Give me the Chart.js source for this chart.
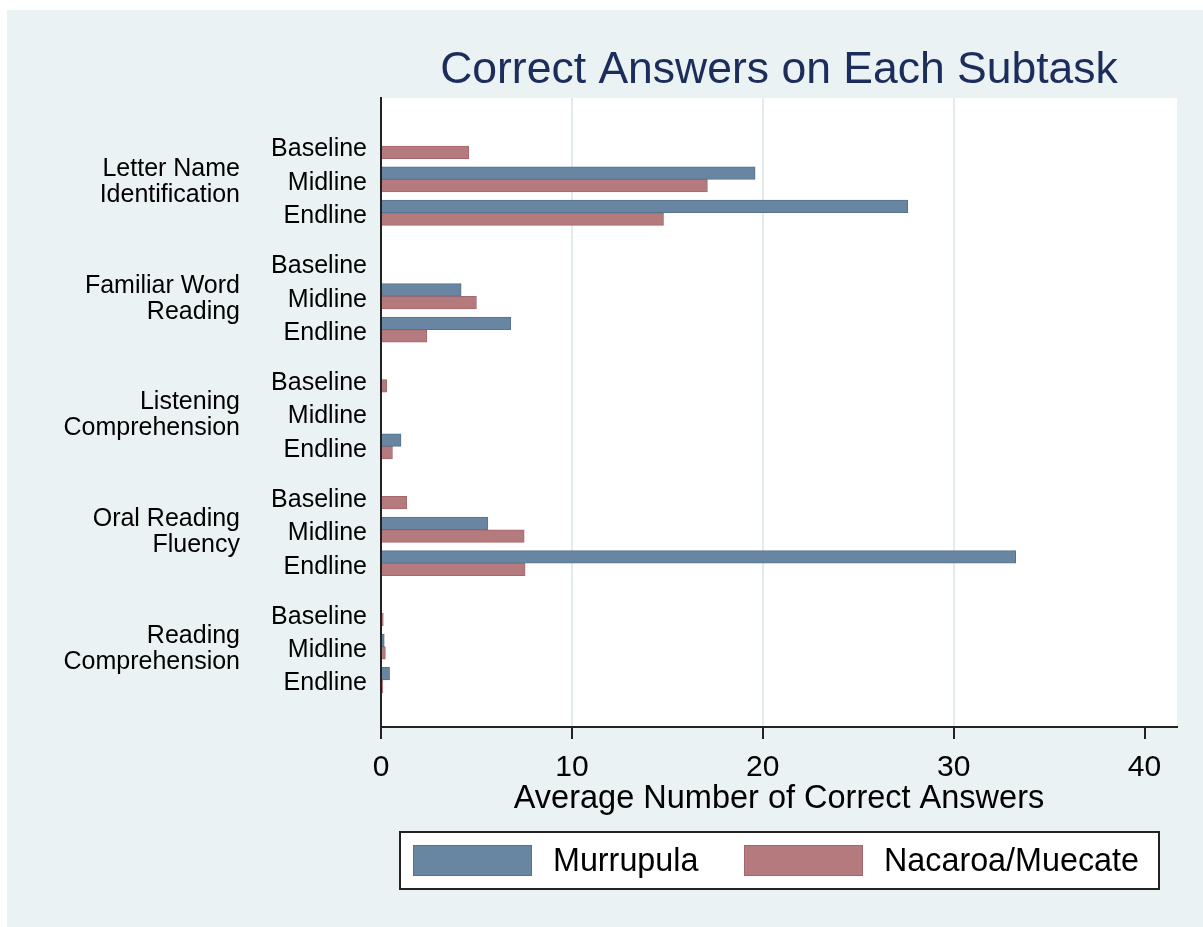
<!DOCTYPE html>
<html>
<head>
<meta charset="utf-8">
<title>Correct Answers on Each Subtask</title>
<script src="https://cdn.jsdelivr.net/npm/chart.js@4/dist/chart.umd.min.js"></script>
<style>
    html, body { margin: 0; padding: 0; background: #ffffff; }
    #wrap { position: relative; width: 1203px; height: 927px; }
</style>
</head>
<body>
<div id="wrap"><canvas id="subtaskChart" width="1203" height="927"></canvas></div>
<script>
// Data
const subtasks = [
    ['Letter Name', 'Identification'],
    ['Familiar Word', 'Reading'],
    ['Listening', 'Comprehension'],
    ['Oral Reading', 'Fluency'],
    ['Reading', 'Comprehension']
];
const rounds = ['Baseline', 'Midline', 'Endline'];
const seriesNames = ['Murrupula', 'Nacaroa/Muecate'];

// one value per subtask x round, in order (null = no bar)
const murrupula = [null, 19.6, 27.6, null, 4.2, 6.8, null, null, 1.05, null, 5.6, 33.25, null, 0.17, 0.45];
const nacaroa = [4.6, 17.1, 14.8, null, 5.0, 2.4, 0.3, null, 0.6, 1.35, 7.5, 7.55, 0.12, 0.23, 0.1];

const xTicks = [0, 10, 20, 30, 40];

// Style
const FONT = '"Liberation Sans", Arial, sans-serif';
const colors = {
    page: '#ffffff',
    panel: '#eaf2f3',
    plot: '#ffffff',
    grid: '#e3ebee',
    title: '#1c2c5b',
    blue: '#6886a1',
    blueEdge: '#56738e',
    red: '#b57a7d',
    redEdge: '#a4676b'
};
const GROUP_GAP = 0.5; // extra row space between subtasks

// row position on the linear y scale
const rowPos = (g, r) => g * (rounds.length + GROUP_GAP) + r;
const positions = [];
subtasks.forEach((s, g) => rounds.forEach((r, i) => positions.push(rowPos(g, i))));

const toPoints = (values) => values.map((v, i) => ({ x: v, y: positions[i] }));

// Background: white page, light panel, white plot region
const backgroundPlugin = {
    id: 'stataBackground',
    beforeDraw(chart) {
        const { ctx, width, height, chartArea } = chart;
        ctx.save();
        ctx.fillStyle = colors.page;
        ctx.fillRect(0, 0, width, height);
        ctx.fillStyle = colors.panel;
        ctx.fillRect(7, 10, width - 7, height - 10);
        ctx.fillStyle = colors.plot;
        ctx.fillRect(chartArea.left, chartArea.top, chartArea.right - chartArea.left, chartArea.bottom - chartArea.top);
        ctx.restore();
    }
};

// Title, subtask labels, x axis title and legend box
const decorationsPlugin = {
    id: 'stataDecorations',
    afterDraw(chart) {
        const { ctx, chartArea } = chart;
        const yScale = chart.scales.y;
        ctx.save();

        // title
        ctx.fillStyle = colors.title;
        ctx.font = `44.5px ${FONT}`;
        ctx.textAlign = 'center';
        ctx.textBaseline = 'middle';
        ctx.fillText('Correct Answers on Each Subtask', (chartArea.left + chartArea.right) / 2, 71);

        // subtask group labels
        ctx.fillStyle = '#000000';
        ctx.font = `25px ${FONT}`;
        ctx.textAlign = 'right';
        subtasks.forEach((lines, g) => {
            const mid = yScale.getPixelForValue(rowPos(g, 1)) + 2.5;
            ctx.fillText(lines[0], 240, mid - 13);
            ctx.fillText(lines[1], 240, mid + 13);
        });

        // x axis title
        ctx.font = `32.5px ${FONT}`;
        ctx.textAlign = 'center';
        ctx.fillText('Average Number of Correct Answers', (chartArea.left + chartArea.right) / 2, 799);

        // legend
        const box = { x: 400, y: 832, w: 759, h: 57 };
        ctx.fillStyle = '#ffffff';
        ctx.fillRect(box.x, box.y, box.w, box.h);
        ctx.strokeStyle = '#222222';
        ctx.lineWidth = 2;
        ctx.strokeRect(box.x, box.y, box.w, box.h);

        const swatchX = [413, 744];
        chart.data.datasets.forEach((ds, i) => {
            ctx.fillStyle = ds.backgroundColor;
            ctx.fillRect(swatchX[i], 845, 119, 31);
            ctx.strokeStyle = ds.borderColor;
            ctx.lineWidth = 1;
            ctx.strokeRect(swatchX[i] + 0.5, 845.5, 118, 30);
            ctx.fillStyle = '#000000';
            ctx.font = `32.3px ${FONT}`;
            ctx.textAlign = 'left';
            ctx.textBaseline = 'middle';
            ctx.fillText(ds.label, swatchX[i] + 140, 862);
        });
        ctx.restore();
    }
};

const ctx = document.getElementById('subtaskChart').getContext('2d');
const chart = new Chart(ctx, {
    type: 'bar',
    data: {
        datasets: [
            {
                label: seriesNames[0],
                data: toPoints(murrupula),
                backgroundColor: colors.blue,
                borderColor: colors.blueEdge,
                borderWidth: 1,
                barThickness: 12.6
            },
            {
                label: seriesNames[1],
                data: toPoints(nacaroa),
                backgroundColor: colors.red,
                borderColor: colors.redEdge,
                borderWidth: 1,
                barThickness: 12.6
            }
        ]
    },
    options: {
        indexAxis: 'y',
        responsive: false,
        animation: false,
        devicePixelRatio: 1,
        layout: { padding: { top: 98, right: 26, bottom: 0, left: 0 } },
        plugins: {
            legend: { display: false },
            title: { display: false },
            tooltip: { enabled: false }
        },
        scales: {
            x: {
                type: 'linear',
                min: 0,
                max: 41.7,
                afterFit: (scale) => { scale.height = 200; },
                afterBuildTicks: (scale) => { scale.ticks = xTicks.map(v => ({ value: v })); },
                grid: {
                    color: (c) => (c.tick && (c.tick.value === 0 || c.tick.value === 40)) ? 'rgba(0,0,0,0)' : colors.grid,
                    lineWidth: 2,
                    tickColor: '#222222',
                    tickLength: 12,
                    tickWidth: 2
                },
                border: { display: true, color: '#222222', width: 2 },
                ticks: {
                    color: '#000000',
                    font: { family: FONT, size: 30 },
                    padding: 11,
                    maxRotation: 0,
                    autoSkip: false
                }
            },
            y: {
                type: 'linear',
                reverse: true,
                offset: false,
                min: -1.44,
                max: 17.41,
                afterFit: (scale) => { scale.width = 381; },
                afterBuildTicks: (scale) => { scale.ticks = positions.map(v => ({ value: v })); },
                grid: { display: true, color: 'rgba(0,0,0,0)', drawTicks: false, offset: false },
                border: { display: true, color: '#222222', width: 2 },
                ticks: {
                    color: '#000000',
                    font: { family: FONT, size: 25 },
                    padding: 14,
                    labelOffset: 3.5,
                    autoSkip: false,
                    callback: (value, index) => rounds[index % rounds.length]
                }
            }
        }
    },
    plugins: [backgroundPlugin, decorationsPlugin]
});
</script>
</body>
</html>
